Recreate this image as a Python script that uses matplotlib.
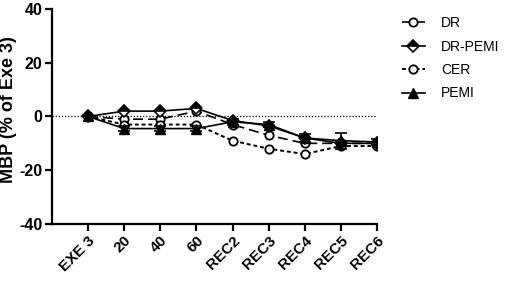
import matplotlib
matplotlib.use("Agg")
import matplotlib.pyplot as plt
from matplotlib.lines import Line2D

plt.rcParams['font.family'] = ['Liberation Sans', 'DejaVu Sans']
plt.rcParams['axes.unicode_minus'] = False

# datos
etiquetas = ['EXE 3', '20', '40', '60', 'REC2', 'REC3', 'REC4', 'REC5', 'REC6']
dr = [0, -1, -1, 2, -3, -7, -10, -10, -10]
dr_pemi = [0, 2, 2, 3, -1.5, -3.5, -8, -10, -10]
cer = [0, -3, -3, -3, -9, -12, -14, -11, -11]
pemi = [0, -4.5, -4.5, -4.5, -2, -3, -8, -9, -9.5]
err_pemi = [0, 1, 1, 1, 1, 1, 1.5, 3, 1]

x = list(range(len(etiquetas)))

fig = plt.figure(figsize=(5.10, 2.81), dpi=100)
ax = fig.add_axes([0.102, 0.203, 0.637, 0.765])

ax.axhline(0, color='black', linestyle=(0, (1, 1.5)), linewidth=0.9, zorder=1)

ms = 6
estilos = {
    'DR': dict(color='black', linestyle=(0, (6, 3)), linewidth=1.2, marker='o',
               markersize=ms, markerfacecolor='white', markeredgewidth=1.3),
    'DR-PEMI': dict(color='black', linestyle='-', linewidth=1.2, marker='D',
                    markersize=ms, fillstyle='top', markerfacecoloralt='white',
                    markerfacecolor='black', markeredgewidth=1.2),
    'CER': dict(color='black', linestyle=(0, (2, 1.5)), linewidth=1.4, marker='o',
                markersize=ms, markerfacecolor='white', markeredgewidth=1.3),
    'PEMI': dict(color='black', linestyle='-', linewidth=1.2, marker='^',
                 markersize=ms + 0.5, markerfacecolor='black'),
}

ax.plot(x, dr, zorder=3, **estilos['DR'])
ax.plot(x, dr_pemi, zorder=4, **estilos['DR-PEMI'])
ax.plot(x, cer, zorder=3, **estilos['CER'])
ax.errorbar(x, pemi, yerr=err_pemi, capsize=4, elinewidth=1.2, capthick=1.2,
            zorder=5, **estilos['PEMI'])

ax.set_xlim(-1, 8)
ax.set_ylim(-40, 40)
ax.set_yticks([-40, -20, 0, 20, 40])
ax.set_xticks(x)
ax.set_xticklabels(etiquetas, rotation=45, ha='right', rotation_mode='anchor',
                   fontsize=11, fontweight='bold')
for lab in ax.get_yticklabels():
    lab.set_fontsize(11.5)
    lab.set_fontweight('bold')
ax.set_ylabel('MBP (% of Exe 3)', fontsize=13, fontweight='bold')
ax.yaxis.set_label_coords(-0.108, 0.53)

for s in ['top', 'right']:
    ax.spines[s].set_visible(False)
for s in ['left', 'bottom']:
    ax.spines[s].set_linewidth(1.6)
ax.tick_params(width=1.6, length=5, direction='out', pad=2)

handles = [Line2D([], [], **estilos[k]) for k in estilos]
ax.legend(handles, list(estilos.keys()), loc='upper left',
          bbox_to_anchor=(1.04, 1.025), frameon=False, fontsize=10,
          handlelength=1.6, handletextpad=1.2, labelspacing=0.68)

fig.savefig('out.png', dpi=100)
